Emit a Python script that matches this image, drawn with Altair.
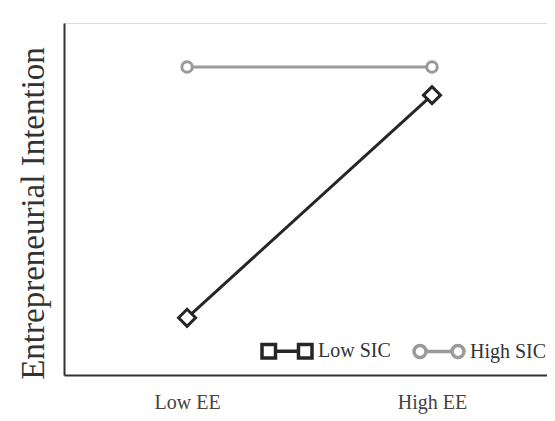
import altair as alt
import pandas as pd

categories = ["Low EE", "High EE"]
series_names = ["Low SIC", "High SIC"]
low_sic = [1.65, 4.18]
high_sic = [4.5, 4.5]

rows = []
for c, v in zip(categories, low_sic):
    rows.append({"ee": c, "series": "Low SIC", "value": v})
for c, v in zip(categories, high_sic):
    rows.append({"ee": c, "series": "High SIC", "value": v})
df = pd.DataFrame(rows)

FONT = "Liberation Serif"
colors = ["#262626", "#9a9a9a"]
sq_path = ("M-1,-0.27H-0.46V0.27H-1Z M-0.46,0H0.46 M0.46,-0.27H1V0.27H0.46Z")
ci_path = ("M-1,0A0.24,0.24 0 1,0 -0.52,0A0.24,0.24 0 1,0 -1,0Z M-0.52,0H0.52 "
           "M0.52,0A0.24,0.24 0 1,0 1,0A0.24,0.24 0 1,0 0.52,0Z")

legend = alt.Legend(
    title=None, orient="none", legendX=196, legendY=301, direction="horizontal",
    symbolSize=2500, symbolStrokeWidth=3.5, symbolOpacity=1, labelFont=FONT, labelFontSize=20,
    labelColor="#333333", labelOffset=4, columnPadding=16, padding=0,
)

x = alt.X("ee:N", sort=categories,
          scale=alt.Scale(type="point", padding=0.486, align=0.517),
          axis=alt.Axis(title=None, ticks=False, grid=False, domainColor="#333333",
                        domainWidth=2, labelFont=FONT, labelFontSize=20,
                        labelColor="#444444", labelPadding=17, labelAngle=0))
y = alt.Y("value:Q", scale=alt.Scale(domain=[1, 5], nice=False, zero=False),
          axis=alt.Axis(title="Entrepreneurial Intention", ticks=False, labels=False,
                        grid=False, domainColor="#333333", domainWidth=2,
                        titleFont=FONT, titleFontSize=33, titleFontWeight="normal",
                        titleColor="#333333", titleAngle=270, titleX=-21, titleY=190,
                        titleAlign="center", titleBaseline="alphabetic"))
color = alt.Color("series:N", scale=alt.Scale(domain=series_names, range=colors),
                  legend=legend)

lines = alt.Chart(df).mark_line(strokeWidth=3).encode(x=x, y=y, color=color)
stroke = alt.Stroke("series:N", scale=alt.Scale(domain=series_names, range=colors), legend=None)
pts_low = alt.Chart(df).transform_filter(alt.datum.series == "Low SIC").mark_point(
    shape="diamond", size=289, filled=True, fill="white", strokeWidth=3, opacity=1
).encode(x=x, y=y, stroke=stroke)
pts_high = alt.Chart(df).transform_filter(alt.datum.series == "High SIC").mark_point(
    shape="circle", size=110, filled=True, fill="white", strokeWidth=3, opacity=1
).encode(x=x, y=y, stroke=stroke)
legend_layer = alt.Chart(df).transform_filter("false").mark_point(strokeWidth=3, opacity=1).encode(
    x=x, y=y, color=color,
    shape=alt.Shape("series:N", scale=alt.Scale(domain=series_names, range=[sq_path, ci_path]),
                    legend=legend),
)

chart = alt.layer(lines, pts_low, pts_high, legend_layer).properties(
    width=483, height=352,
    autosize=alt.AutoSizeParams(type="none"),
    padding={"left": 56, "top": 15, "right": 0, "bottom": 44},
).configure_view(strokeWidth=0).configure(background="white")

chart.save("out.html", embed_options={"renderer": "svg", "actions": False})
